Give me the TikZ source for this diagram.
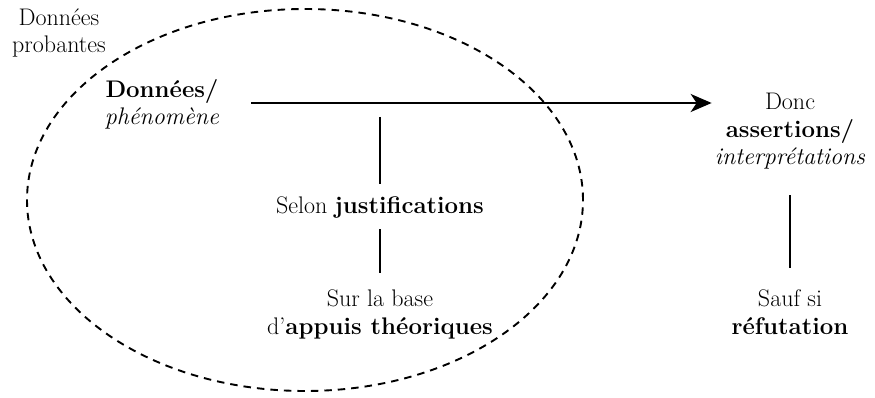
\documentclass[tikz,border=0pt]{standalone}
\usetikzlibrary{arrows.meta}
\begin{document}
\begin{tikzpicture}[x=1pt,y=-1pt,
  txt/.style={font=\fontsize{24}{27.5}\selectfont, align=center, inner sep=0pt, anchor=base},
  arr/.style={line width=2.3pt, -{Stealth[length=21pt,width=18pt,inset=6pt]}},
  vline/.style={line width=2pt},
  oval/.style={line width=1.9pt, dash pattern=on 7.5pt off 6pt}
]
\useasboundingbox (0,0) rectangle (875,398);
\coordinate (ay) at (0,103);
\draw[oval] (305,200) ellipse [x radius=278pt, y radius=191pt];
\node[txt] (prob) at (59,53) {Données\\probantes};
\node[txt] (dp) at (162,125) {\textbf{Données/}\\\textit{phénomène}};
\node[txt] (conc) at (790,165) {Donc\\\textbf{assertions/}\\\textit{interprétations}};
\node[txt] (just) at (380,213) {Selon \textbf{justifications}};
\node[txt] (appui) at (380,334) {Sur la base\\d’\textbf{appuis théoriques}};
\node[txt] (sauf) at (790,334) {Sauf si\\\textbf{réfutation}};
\draw[arr] ([xshift=32pt]dp.east |- ay) -- ([xshift=-3pt]conc.west |- ay);
\draw[vline] ([yshift=-14pt]just.north |- ay) -- ([yshift=12.3pt]just.north);
\draw[vline] ([yshift=-11.3pt]just.south) -- ([yshift=16.3pt]just.south |- appui.north);
\draw[vline] ([yshift=-25.3pt]conc.south) -- ([yshift=21.1pt]conc.south |- sauf.north);
\end{tikzpicture}
\end{document}
